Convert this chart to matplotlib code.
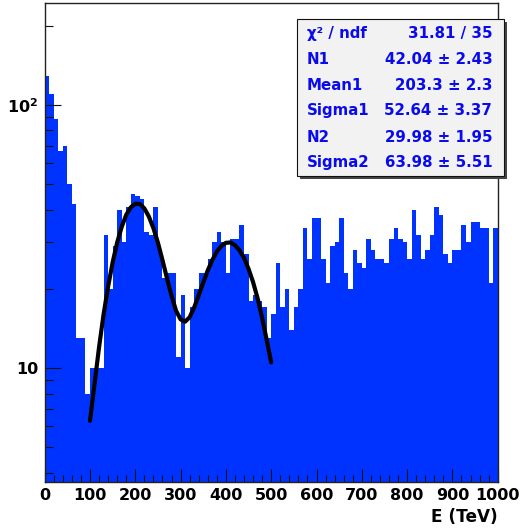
# Energy spectrum with double gaussian fit (ROOT style), log y axis

import numpy as np
import matplotlib
matplotlib.use('Agg')
import matplotlib.pyplot as plt
from matplotlib.patches import Rectangle
from matplotlib.ticker import MultipleLocator, FixedLocator, NullFormatter

# histogram contents, 100 bins of 10 TeV from 0 to 1000
counts = [129, 110, 88, 67, 70, 50, 42, 13, 13, 8,
          10, 10, 10, 32, 20, 29, 40, 30, 41, 46,
          45, 44, 33, 32, 41, 28, 22, 23, 23, 11,
          19, 10, 17, 20, 23, 23, 26, 30, 33, 30,
          23, 31, 31, 35, 27, 18, 19, 18, 17, 13,
          16, 25, 17, 20, 14, 17, 20, 34, 26, 37,
          37, 26, 21, 29, 30, 37, 23, 20, 28, 25,
          24, 31, 28, 26, 26, 25, 31, 34, 31, 30,
          26, 40, 32, 26, 28, 32, 41, 38, 27, 25,
          28, 28, 35, 30, 36, 36, 34, 34, 21, 34]
bin_edges = np.arange(0, 1001, 10)

# fit curve (100..500 TeV)
fit_x = list(range(100, 501, 10))
fit_y = [6.3, 8.7, 12.0, 16.0, 20.4, 25.2, 30.0, 34.4, 38.2, 40.8,
         42.1, 42.0, 40.4, 37.6, 34.0, 29.9, 25.7, 21.9, 18.8, 16.5,
         15.3, 15.0, 15.6, 17.0, 18.9, 21.1, 23.5, 25.7, 27.7, 29.1,
         29.9, 30.0, 29.3, 28.0, 26.2, 23.8, 21.2, 18.4, 15.5, 12.8, 10.5]

stat_names = ['\u03c7\u00b2 / ndf', 'N1', 'Mean1', 'Sigma1', 'N2', 'Sigma2']
stat_vals = ['31.81 / 35', '42.04 \u00b1 2.43', '203.3 \u00b1 2.3',
             '52.64 \u00b1 3.37', '29.98 \u00b1 1.95', '63.98 \u00b1 5.51']

plt.rcParams['font.family'] = 'DejaVu Sans'
plt.rcParams['font.weight'] = 'bold'
plt.rcParams['mathtext.default'] = 'bf'

W, H = 521, 530
fig = plt.figure(figsize=(W/100, H/100), dpi=100)
ax = fig.add_axes([44.7/W, (H-481.7)/H, (497.7-44.7)/W, (481.7-3.3)/H])

ax.stairs(counts, bin_edges, fill=True, baseline=0.1, color='#0033ff', lw=0)
ax.plot(fit_x, fit_y, color='black', lw=3, solid_capstyle='round', zorder=3)

ax.set_yscale('log')
ax.set_xlim(0, 1000)
ax.set_ylim(3.7, 243)

ax.xaxis.set_major_locator(MultipleLocator(100))
ax.xaxis.set_minor_locator(MultipleLocator(20))
ax.yaxis.set_major_locator(FixedLocator([10, 100]))
ax.yaxis.set_minor_locator(FixedLocator([4, 5, 6, 7, 8, 9, 20, 30, 40, 50, 60, 70, 80, 90, 200]))
ax.set_yticklabels(['10', r'$10^{2}$'])
ax.yaxis.set_minor_formatter(NullFormatter())

ax.tick_params(which='both', direction='in', top=False, right=False, color='#111111')
ax.tick_params(axis='y', which='major', length=11.3, width=0.8, pad=4.6, labelsize=11.5)
ax.tick_params(axis='y', which='minor', length=6, width=0.8)
ax.tick_params(axis='x', which='major', length=9.6, width=0.8, pad=4.7, labelsize=11.5)
ax.tick_params(axis='x', which='minor', length=4.8, width=0.8)
for s in ax.spines.values():
    s.set_linewidth(1.0)
    s.set_color('#222222')

fig.text(497.7/W, (H-521.7)/H, 'E (TeV)', ha='right', va='baseline', fontsize=12.2, weight='bold')

# stats box with shadow
bx0, bx1, by0, by1 = 296.7, 504.3, 19.3, 176.0
fig.add_artist(Rectangle(((bx0+3)/W, (H-by1-3)/H), (bx1-bx0)/W, (by1-by0)/H,
                         transform=fig.transFigure, facecolor='#444444', edgecolor='none'))
fig.add_artist(Rectangle((bx0/W, (H-by1)/H), (bx1-bx0)/W, (by1-by0)/H,
                         transform=fig.transFigure, facecolor='#f2f2f2', edgecolor='#111111', lw=0.8))
row_y = [33.3, 59.3, 85.0, 110.5, 137.0, 162.3]
for name, val, yy in zip(stat_names, stat_vals, row_y):
    fig.text(306.7/W, 1-yy/H, name, ha='left', va='center', fontsize=10.8, color='#0a0aee', weight='bold')
    fig.text(492.3/W, 1-yy/H, val, ha='right', va='center', fontsize=10.8, color='#0a0aee', weight='bold')

fig.savefig('out.png', dpi=100)
